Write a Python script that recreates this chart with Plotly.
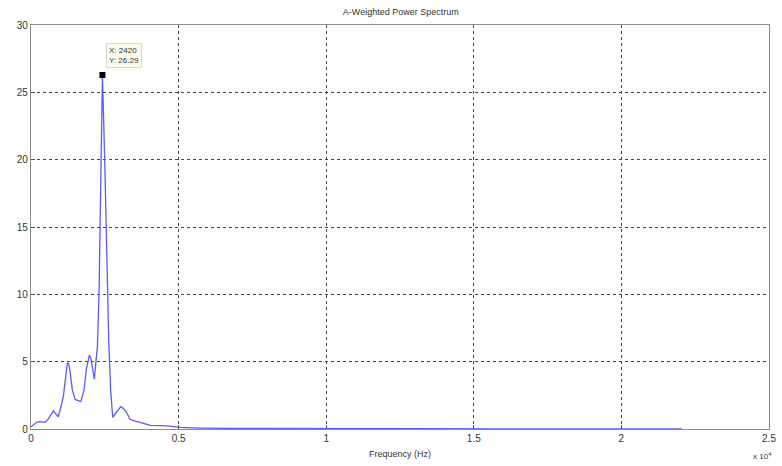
import plotly.graph_objects as go

freq = [0, 100, 193, 305, 475, 588, 757, 830, 927, 1096, 1180, 1232, 1280, 1322, 1400, 1492, 1580, 1685, 1797, 1880, 1977, 2020, 2056, 2147, 2200, 2249, 2305, 2362, 2420, 2497, 2587, 2633, 2700, 2768, 2860, 2950, 3040, 3120, 3220, 3356, 3500, 3695, 3850, 4034, 4400, 4712, 5051, 5400, 5729, 6858, 8000, 10000, 13000, 16000, 19000, 22050]
power = [0.17, 0.35, 0.5, 0.55, 0.5, 0.75, 1.34, 1.15, 0.91, 2.4, 4.0, 4.93, 4.8, 4.3, 2.9, 2.2, 2.12, 2.03, 2.9, 4.5, 5.49, 5.3, 4.88, 3.69, 5.0, 6.1, 10.07, 19.97, 26.29, 19.97, 10.07, 6.6, 2.8, 0.87, 1.15, 1.45, 1.66, 1.55, 1.3, 0.72, 0.6, 0.5, 0.38, 0.27, 0.25, 0.22, 0.12, 0.09, 0.07, 0.04, 0.03, 0.02, 0.02, 0.015, 0.015, 0.01]

tip_x = [2420]
tip_y = [26.29]

x_tickvals = [0, 5000, 10000, 15000, 20000, 25000]
x_ticktext = ["0", "0.5", "1", "1.5", "2", "2.5"]
y_tickvals = [0, 5, 10, 15, 20, 25, 30]

font_fam = "Liberation Sans Narrow, Liberation Sans, Arial"

fig = go.Figure()
fig.add_trace(go.Scatter(x=freq, y=power, mode="lines",
                         line=dict(color="#5a5aff", width=1.3),
                         hoverinfo="skip", showlegend=False))
fig.add_trace(go.Scatter(x=tip_x, y=tip_y, mode="markers",
                         marker=dict(symbol="square", size=6, color="black"),
                         hoverinfo="skip", showlegend=False))

fig.add_annotation(x=tip_x[0], y=tip_y[0], xref="x", yref="y",
                   text="X: %d<br>Y: %.2f" % (tip_x[0], tip_y[0]),
                   showarrow=False, xanchor="left", yanchor="bottom",
                   xshift=4, yshift=7, align="left",
                   bgcolor="#fdfbee", bordercolor="#dcd8c4", borderwidth=1,
                   borderpad=2, font=dict(family=font_fam, size=8, color="#333"))

fig.add_annotation(text="Frequency (Hz)", xref="paper", yref="paper",
                   x=0.5, y=-0.045, yanchor="top", showarrow=False,
                   font=dict(family=font_fam, size=9, color="#333"))
fig.add_annotation(text="x 10<sup>4</sup>", xref="paper", yref="paper",
                   x=0.99, y=-0.05, xanchor="center", yanchor="top", showarrow=False,
                   font=dict(family=font_fam, size=8, color="#333"))

axis_common = dict(showline=True, mirror=True, linecolor="#8c8c8c", linewidth=1.3,
                   ticks="inside", ticklen=4, tickcolor="#555",
                   showgrid=True, gridcolor="#444", griddash="dot", gridwidth=1,
                   zeroline=False, automargin=False,
                   tickfont=dict(family=font_fam, size=10, color="#333"))

fig.update_xaxes(range=[0, 25000], tickvals=x_tickvals, ticktext=x_ticktext, **axis_common)
fig.update_yaxes(range=[0, 30], tickvals=y_tickvals, **axis_common)

fig.update_layout(
    width=782, height=466,
    margin=dict(l=31, r=13, t=25, b=37, autoexpand=False),
    paper_bgcolor="white", plot_bgcolor="white",
    title=dict(text="A-Weighted Power Spectrum", x=0.5125, xanchor="center",
               y=0.975, yanchor="middle",
               font=dict(family=font_fam, size=9, color="#333")),
    showlegend=False,
)

fig.write_html("out.html", config={"displayModeBar": False},
               post_script="document.body.style.margin='0';document.body.style.padding='0';document.body.style.overflow='hidden';")
